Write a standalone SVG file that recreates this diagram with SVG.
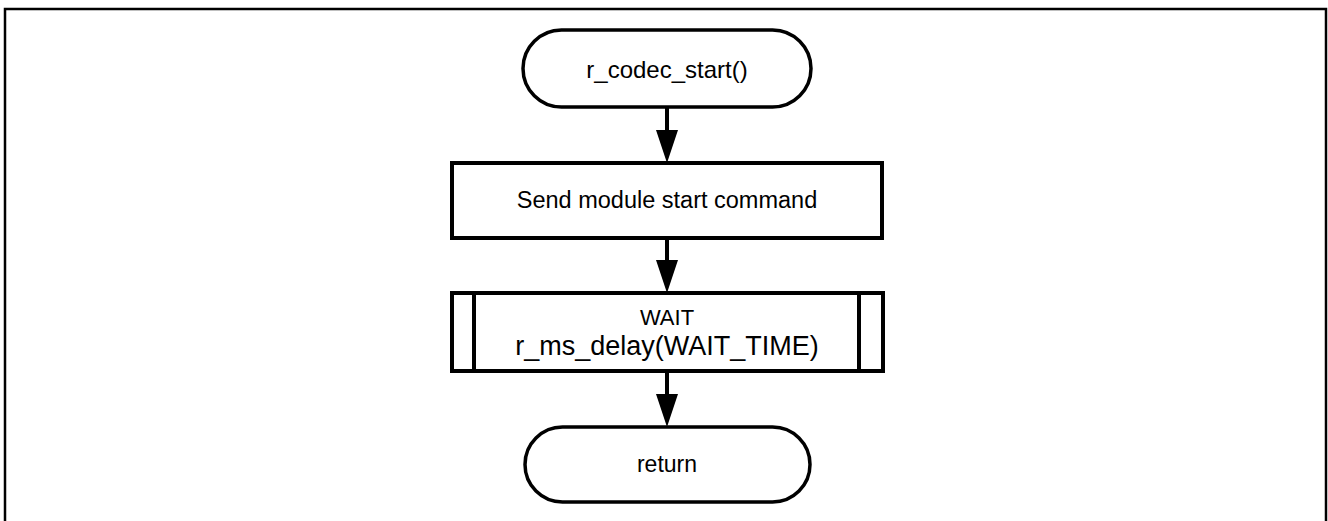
<svg xmlns="http://www.w3.org/2000/svg" width="1328" height="521" viewBox="0 0 1328 521">
<style>
.frame{fill:#fff;stroke:#000;stroke-width:2.5}
.term{fill:#fff;stroke:#000;stroke-width:3.5}
.box{fill:#fff;stroke:#000;stroke-width:4}
.line{fill:none;stroke:#000;stroke-width:4}
.conn{fill:none;stroke:#000;stroke-width:4;marker-end:url(#arr)}
text{font-family:"Liberation Sans",Arial,sans-serif;fill:#000;text-anchor:middle}
</style>
<defs>
<marker id="arr" markerUnits="userSpaceOnUse" markerWidth="33" markerHeight="22" refX="0" refY="11" orient="auto" viewBox="0 0 33 22">
<path d="M0,0 L33,11 L0,22 Z" fill="#000"/>
</marker>
</defs>
<rect class="frame" x="5" y="9" width="1321" height="530"/>
<g id="connectors">
<path class="conn" d="M667,107 V130"/>
<path class="conn" d="M667,238 V260"/>
<path class="conn" d="M667,371 V394"/>
</g>
<g id="start">
<rect class="term" x="523" y="30" width="288" height="77" rx="38.5" ry="38.5"/>
<text x="667" y="78" font-size="24">r_codec_start()</text>
</g>
<g id="send">
<rect class="box" x="452" y="163" width="430" height="75"/>
<text x="667" y="208" font-size="23.5">Send module start command</text>
</g>
<g id="wait">
<rect class="box" x="452" y="293" width="431" height="78"/>
<line class="line" x1="474" y1="293" x2="474" y2="371"/>
<line class="line" x1="859" y1="293" x2="859" y2="371"/>
<text x="667" y="325" font-size="22">WAIT</text>
<text x="667" y="355" font-size="27">r_ms_delay(WAIT_TIME)</text>
</g>
<g id="return">
<rect class="term" x="525" y="427" width="285" height="75" rx="37.5" ry="37.5"/>
<text x="667" y="472" font-size="23">return</text>
</g>
</svg>
